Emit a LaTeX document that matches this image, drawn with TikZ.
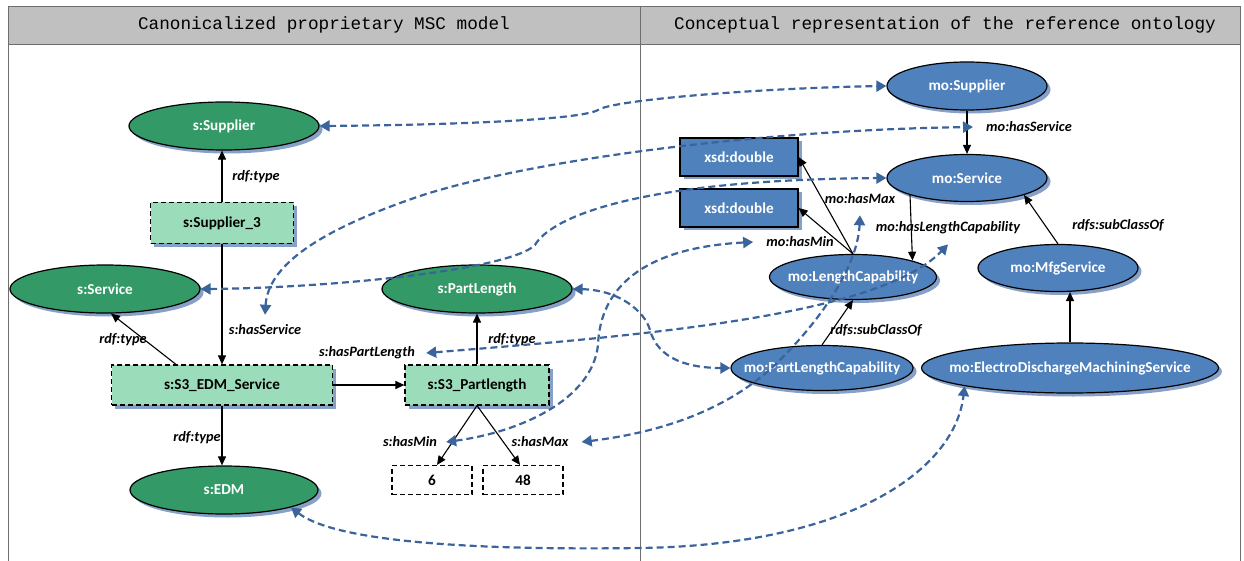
\documentclass[tikz,border=0pt]{standalone}
\usepackage{fontspec}
\setmainfont{Carlito}
\newfontfamily\hdrfont{Liberation Mono}
\usetikzlibrary{shapes.geometric,arrows.meta,shadows}
\definecolor{gr}{RGB}{51,153,102}
\definecolor{lg}{RGB}{155,221,187}
\definecolor{bl}{RGB}{79,129,189}
\definecolor{shc}{RGB}{135,160,200}
\definecolor{dc}{RGB}{58,100,155}
\definecolor{hdrc}{RGB}{192,192,192}
\definecolor{framec}{RGB}{110,110,110}
\newcommand{\zw}[1]{\makebox[0pt]{#1}}
\begin{document}
\begin{tikzpicture}[x=1pt,y=-1pt,
  shd/.style={drop shadow={shadow xshift=3.5pt,shadow yshift=-3.5pt,fill=shc,opacity=1}},
  nfont/.style={font=\bfseries\fontsize{15.2}{17}\selectfont},
  gell/.style={ellipse,draw=black,line width=1.2pt,fill=gr,text=white,nfont,inner sep=0pt,minimum width=190pt,minimum height=48pt,shd},
  bell/.style={ellipse,draw=black,line width=1.2pt,fill=bl,text=white,nfont,inner sep=0pt,minimum width=160pt,minimum height=47pt,shd},
  gbox/.style={rectangle,draw=black,line width=1.2pt,dash pattern=on 5pt off 3pt,fill=lg,nfont,inner sep=0pt,minimum height=41pt,shd},
  bbox/.style={rectangle,draw=black,line width=1.2pt,fill=bl,text=white,nfont,inner sep=0pt,minimum width=118pt,minimum height=38pt,shd},
  vbox/.style={rectangle,draw=black,line width=1.1pt,dash pattern=on 5pt off 3pt,nfont,inner sep=0pt,minimum width=80pt,minimum height=29pt},
  lbl/.style={font=\bfseries\itshape\fontsize{14.3}{16}\selectfont,inner sep=1pt},
  edge/.style={line width=1.1pt,-{Triangle[width=8pt,length=9pt]}},
  map/.style={draw=dc,line width=2.2pt,dash pattern=on 7pt off 4pt,{Triangle[width=11pt,length=10pt]}-{Triangle[width=11pt,length=10pt]}},
  hdr/.style={font=\hdrfont\fontsize{17.7}{20}\selectfont,inner sep=0pt}]
\useasboundingbox (0,0) rectangle (1244,561);
% frame and header
\fill[hdrc] (8,7) rectangle (1240,45);
\draw[framec,line width=1pt] (8,561) -- (8,7) -- (1240,7) -- (1240,561);
\draw[framec,line width=1pt] (8,45) -- (1240,45);
\draw[framec,line width=1pt] (640,7) -- (640,561);
\node[hdr] (h1) at (324,25) {Canonicalized proprietary MSC model};
\node[hdr] (h2) at (945,25) {Conceptual representation of the reference ontology};

% left model
\node[gell] (sSup) at (224,126) {\zw{s:Supplier}};
\node[gbox,minimum width=143pt] (sSup3) at (222,223) {s:Supplier\_3};
\node[gell] (sSrv) at (105,289) {\zw{s:Service}};
\node[gell] (sPL) at (477,289) {\zw{s:PartLength}};
\node[gbox,minimum width=221pt,minimum height=40pt] (sEDMS) at (222,385) {s:S3\_EDM\_Service};
\node[gbox,minimum width=144pt,minimum height=40pt] (sS3PL) at (477,385) {s:S3\_Partlength};
\node[gell,minimum width=188pt] (sEDM) at (224,490) {\zw{s:EDM}};
\node[vbox] (v6) at (432,480) {6};
\node[vbox] (v48) at (523,480) {48};

% right ontology
\node[bbox] (xmax) at (739,157) {xsd:double};
\node[bbox] (xmin) at (739,208) {xsd:double};
\node[bell,minimum height=48pt] (moSup) at (967,86) {\zw{mo:Supplier}};
\node[bell] (moSrv) at (967,178) {\zw{mo:Service}};
\node[bell,minimum width=167pt,minimum height=45pt] (moLC) at (853,277) {\zw{mo:LengthCapability}};
\node[bell] (moMfg) at (1058,268) {\zw{mo:MfgService}};
\node[bell,minimum width=182pt,minimum height=45pt] (moPLC) at (822,368) {\zw{mo:PartLengthCapability}};
\node[bell,minimum width=297pt,minimum height=50pt] (moEDM) at (1070,368) {\zw{mo:ElectroDischargeMachiningService}};

% labels
\node[lbl] (lSupType) at (256,177) {rdf:type};
\node[lbl] (lsHasSrv) at (265,330) {s:hasService};
\node[lbl] (lSrvType) at (123,340) {rdf:type};
\node[lbl] (lEDMType) at (197,438) {rdf:type};
\node[lbl] (lsHasPL) at (367,353) {s:hasPartLength};
\node[lbl] (lPLType) at (512,340) {rdf:type};
\node[lbl] (lsHasMin) at (410,442) {s:hasMin};
\node[lbl] (lsHasMax) at (540,442) {s:hasMax};
\node[lbl] (lmoHasSrv) at (1029,127) {mo:hasService};
\node[lbl] (lmoHasMax) at (860,199) {mo:hasMax};
\node[lbl] (lmoHasMin) at (800,242) {mo:hasMin};
\node[lbl] (lmoHasLC) at (948,228) {mo:hasLengthCapability};
\node[lbl] (lSub1) at (1118,225) {rdfs:subClassOf};
\node[lbl] (lSub2) at (876,330) {rdfs:subClassOf};

% black edges
\draw[edge] (sSup3.north) -- (sSup3.north |- sSup.south);
\draw[edge] (sSup3.south) -- (sSup3.south |- sEDMS.north);
\draw[edge] ([xshift=-46pt]sEDMS.north) -- ([xshift=6pt]sSrv.south);
\draw[edge] (sEDMS.south) -- (sEDMS.south |- sEDM.north);
\draw[edge] (sEDMS.east) -- (sS3PL.west);
\draw[edge] (sS3PL.north) -- (sPL.south);
\draw[edge] (sS3PL.south) -- ([xshift=5pt]v6.north);
\draw[edge] (sS3PL.south) -- ([xshift=-3pt]v48.north);
\draw[edge] (moSup.south) -- (moSrv.north);
\draw[edge] (moSrv.south west) -- (moLC.north east);
\draw[edge] (moLC.north) -- (xmax.east);
\draw[edge] (moLC.north) -- (xmin.east);
\draw[edge] (moMfg.north) -- (moSrv.south east);
\draw[edge] (moEDM.north) -- (moEDM.north |- moMfg.south);
\draw[edge] (moPLC.north) -- (moLC.south);

% mapping connectors
\draw[map] (sSup.east) .. controls (450,125) and (580,120) .. (598,110) .. controls (612,100) and (760,88) .. (moSup.west);
\draw[map] ([yshift=9pt]lsHasSrv.north) .. controls (268,265) and (320,230) .. (420,196) .. controls (530,160) and (760,130) .. ([xshift=-12pt]lmoHasSrv.west);
\draw[map] (sSrv.east) .. controls (330,288) and (510,270) .. (535,245) .. controls (548,222) and (620,180) .. (moSrv.west);
\draw[map] (sPL.east) .. controls (620,290) and (645,312) .. (650,330) .. controls (658,360) and (690,368) .. (moPLC.west);
\draw[map] ([xshift=10pt]lsHasPL.east) .. controls (650,335) and (880,315) .. ([yshift=-9pt]lmoHasLC.south);
\draw[map] ([xshift=8pt]lsHasMin.east) .. controls (520,432) and (592,400) .. (598,345) .. controls (600,290) and (640,248) .. ([xshift=-12pt]lmoHasMin.west);
\draw[map] ([xshift=12pt]lsHasMax.east) .. controls (680,430) and (740,400) .. (780,360) .. controls (830,310) and (858,260) .. ([yshift=-10pt]lmoHasMax.south);
\draw[map] (sEDM.south east) .. controls (340,545) and (500,550) .. (640,548) .. controls (850,545) and (955,470) .. (moEDM.south west);
\end{tikzpicture}
\end{document}
